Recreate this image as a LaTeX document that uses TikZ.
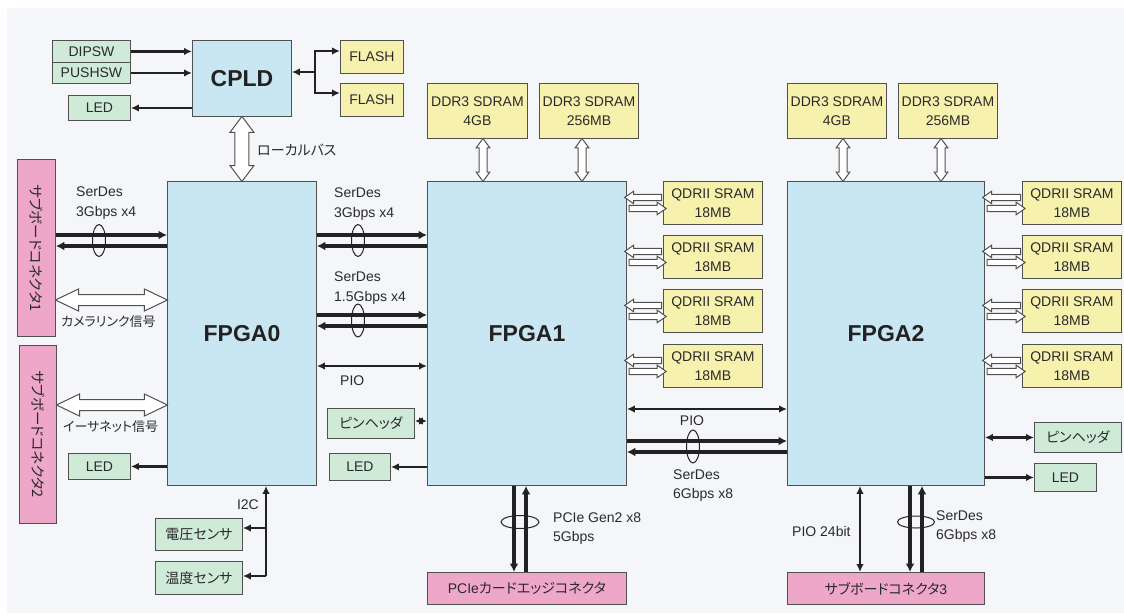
\documentclass[tikz,border=0pt]{standalone}
\usepackage{fontspec}
\setmainfont{Liberation Sans}
\newfontfamily\jp[RawFeature={+palt}]{Noto Sans CJK JP}
\usetikzlibrary{shapes.arrows,calc,arrows.meta}
\definecolor{bgc}{HTML}{F4F6F9}
\definecolor{fpgac}{HTML}{C9E7F2}
\definecolor{grnc}{HTML}{CFEBD8}
\definecolor{yelc}{HTML}{F7F1AE}
\definecolor{pnkc}{HTML}{EEA6C9}
\definecolor{bdc}{HTML}{505050}
\definecolor{txc}{HTML}{2A2A2A}
\definecolor{arc}{HTML}{222222}
\begin{document}
\begin{tikzpicture}[x=1pt,y=-1pt,
  box/.style={draw=bdc, line width=0.9pt, inner sep=0pt, align=center, text=txc,
    font=\fontsize{14}{19}\selectfont, anchor=north west},
  fpga/.style={box, fill=fpgac, font=\bfseries\fontsize{23}{26}\selectfont, text=arc},
  grn/.style={box, fill=grnc},
  yel/.style={box, fill=yelc},
  pnk/.style={box, fill=pnkc},
  lbl/.style={text=txc, font=\fontsize{14}{19.5}\selectfont, inner sep=0pt, align=left},
  ctl/.style={draw=arc, line width=2.1pt, >={Latex[length=8pt,width=7.5pt]}},
  serd/.style={draw=arc, line width=3.3pt, >={Latex[length=8.5pt,width=9pt]}},
  ell/.style={draw=arc, line width=1pt},
  harrow/.style={double arrow, draw=bdc, fill=white, line width=1pt, inner xsep=0pt,
    double arrow head indent=0pt},
  sarrow/.style={single arrow, draw=bdc, fill=white, line width=1pt, inner xsep=0pt,
    inner ysep=2.6pt, single arrow head indent=0pt, single arrow head extend=3.2pt,
    single arrow tip angle=70, minimum height=37},
  ddrarrow/.style={harrow, inner ysep=3.5pt, double arrow head extend=2.8pt,
    double arrow tip angle=72, minimum height=43, rotate=90}
]
\useasboundingbox (0,0) rectangle (1124,614);
\fill[white] (0,0) rectangle (1124,614);
\fill[bgc] (7,8) rectangle (1124,613);

% ---------- top left: CPLD group
\node[grn, minimum width=78, minimum height=22] (dipsw) at (52,40) {DIPSW};
\node[grn, minimum width=78, minimum height=21] (pushsw) at (52,62) {PUSHSW};
\node[grn, minimum width=62, minimum height=25] (ledc) at (68,95) {LED};
\node[fpga, minimum width=99, minimum height=76] (cpld) at (192,40) {CPLD};
\node[yel, minimum width=63, minimum height=33] (flash1) at (340,40) {FLASH};
\node[yel, minimum width=63, minimum height=33] (flash2) at (340,83) {FLASH};

\draw[ctl,->] (dipsw.east) -- (dipsw.east -| cpld.west);
\draw[ctl,->] (pushsw.east) -- (pushsw.east -| cpld.west);
\draw[ctl,->] (cpld.west |- ledc.east) -- (ledc.east);
\coordinate (fj) at (315,72);
\draw[ctl,->] (fj) -- (fj -| cpld.east);
\draw[ctl,->] (fj) |- ($(flash1.north west)+(0,11)$);
\draw[ctl,->] (fj) |- ($(flash2.north west)+(0,10)$);

% ---------- FPGA0 and left side
\node[fpga, minimum width=149, minimum height=304] (fpga0) at (167,181) {FPGA0};
\node[harrow, inner ysep=6.5pt, double arrow head extend=5pt, double arrow tip angle=74,
  minimum height=65, rotate=90] (lbus) at ($(cpld.south)!0.5!(fpga0.north)$) {};
\node[lbl, anchor=west] (lbustxt) at (257,150) {\jp ローカルバス};

\node[pnk, minimum width=38, minimum height=177] (con1) at (17,159) {};
\node[lbl, rotate=-90, font=\fontsize{14.5}{16}\selectfont] at (con1.center) {\jp サブボードコネクタ1};
\node[pnk, minimum width=37, minimum height=178] (con2) at (19,345) {};
\node[lbl, rotate=-90, font=\fontsize{14.5}{16}\selectfont] at (con2.center) {\jp サブボードコネクタ2};

\node[lbl, anchor=west] at (76,203) {SerDes\\3Gbps x4};
\draw[serd,->] (con1.east |- 0,235) -- (fpga0.west |- 0,235);
\draw[serd,->] (fpga0.west |- 0,246) -- (con1.east |- 0,246);
\draw[ell] (99,240.5) ellipse [x radius=6.5, y radius=16];

\node[harrow, inner ysep=5pt, double arrow head extend=5.5pt, double arrow tip angle=51,
  minimum height=112] (cam) at ($(con1.east |- 0,300)!0.5!(fpga0.west |- 0,300)$) {};
\node[lbl, anchor=west, font=\fontsize{13}{16}\selectfont] at (61,322) {\jp カメラリンク信号};
\node[harrow, inner ysep=5pt, double arrow head extend=5.5pt, double arrow tip angle=51,
  minimum height=111] (eth) at ($(con2.east |- 0,405)!0.5!(fpga0.west |- 0,405)$) {};
\node[lbl, anchor=west, font=\fontsize{13}{16}\selectfont] at (63,427) {\jp イーサネット信号};

\node[grn, minimum width=62, minimum height=26] (led0) at (68,453) {LED};
\draw[ctl,->] (fpga0.west |- led0.east) -- (led0.east);

% sensors
\node[grn, minimum width=87, minimum height=32] (volt) at (155,518) {\jp 電圧センサ};
\node[grn, minimum width=87, minimum height=33] (temp) at (155,561) {\jp 温度センサ};
\coordinate (i2c) at (266,576);
\coordinate (i2cv) at (266,528);
\draw[ctl,->] (i2c) -- (i2c |- fpga0.south);
\draw[ctl,->] (i2c) -- (i2c -| temp.east);
\draw[ctl,->] (i2cv) -- (i2cv -| volt.east);
\node[lbl, anchor=east] at (259,505) {I2C};

% ---------- FPGA1
\node[fpga, minimum width=199, minimum height=304] (fpga1) at (427,181) {FPGA1};
\node[yel, minimum width=100, minimum height=55] (ddr1a) at (427,83) {DDR3 SDRAM\\4GB};
\node[yel, minimum width=99, minimum height=55] (ddr1b) at (539,83) {DDR3 SDRAM\\256MB};
\node[ddrarrow] at ($(ddr1a.south -| 483,0)!0.5!(fpga1.north -| 483,0)$) {};
\node[ddrarrow] at ($(ddr1b.south -| 582,0)!0.5!(fpga1.north -| 582,0)$) {};

\node[lbl, anchor=west] at (334,204) {SerDes\\3Gbps x4};
\draw[serd,->] (fpga0.east |- 0,235) -- (fpga1.west |- 0,235);
\draw[serd,->] (fpga1.west |- 0,246) -- (fpga0.east |- 0,246);
\draw[ell] (358,240.5) ellipse [x radius=6.5, y radius=16];

\node[lbl, anchor=west] at (334,288) {SerDes\\1.5Gbps x4};
\draw[serd,->] (fpga0.east |- 0,315) -- (fpga1.west |- 0,315);
\draw[serd,->] (fpga1.west |- 0,326) -- (fpga0.east |- 0,326);
\draw[ell] (358,320.5) ellipse [x radius=6.5, y radius=16.5];

\draw[ctl,<->] (fpga0.east |- 0,366) -- (fpga1.west |- 0,366);
\node[lbl, anchor=west] at (340,381) {PIO};

\node[grn, minimum width=87, minimum height=30] (pin1) at (327,408) {\jp ピンヘッダ};
\draw[ctl,<->] (pin1.east |- 0,421) -- (fpga1.west |- 0,421);
\node[grn, minimum width=61, minimum height=27] (led1) at (329,453) {LED};
\draw[ctl,->] (fpga1.west |- led1.east) -- (led1.east);

\foreach \i/\y in {1/181,2/235,3/289,4/344}{
  \node[yel, minimum width=99, minimum height=43] (qa\i) at (663,\y) {QDRII SRAM\\18MB};
  \node[sarrow, shape border rotate=180] at ($(fpga1.east |- qa\i.west)+(18.5,-5.5)$) {};
  \node[sarrow] at ($(fpga1.east |- qa\i.west)+(18.5,5.5)$) {};
}

% PCIe
\node[pnk, minimum width=199, minimum height=32] (pcie) at (427,572) {PCIe{\jp カードエッジコネクタ}};
\draw[serd,->] (fpga1.south -| 514,0) -- (pcie.north -| 514,0);
\draw[serd,->] (pcie.north -| 526,0) -- (fpga1.south -| 526,0);
\draw[ell] (520,522) ellipse [x radius=19, y radius=6.5];
\node[lbl, anchor=west] at (553,528.5) {PCIe Gen2 x8\\5Gbps};

% ---------- FPGA2
\node[fpga, minimum width=197, minimum height=304] (fpga2) at (787,181) {FPGA2};
\node[yel, minimum width=99, minimum height=55] (ddr2a) at (787,83) {DDR3 SDRAM\\4GB};
\node[yel, minimum width=99, minimum height=55] (ddr2b) at (898,83) {DDR3 SDRAM\\256MB};
\node[ddrarrow] at ($(ddr2a.south -| 843,0)!0.5!(fpga2.north -| 843,0)$) {};
\node[ddrarrow] at ($(ddr2b.south -| 941,0)!0.5!(fpga2.north -| 941,0)$) {};

\foreach \i/\y in {1/181,2/235,3/289,4/344}{
  \node[yel, minimum width=99, minimum height=43] (qb\i) at (1022,\y) {QDRII SRAM\\18MB};
  \node[sarrow, shape border rotate=180, minimum height=38] at ($(fpga2.east |- qb\i.west)+(19,-5.5)$) {};
  \node[sarrow, minimum height=38] at ($(fpga2.east |- qb\i.west)+(19,5.5)$) {};
}

\draw[ctl,<->] (fpga1.east |- 0,409) -- (fpga2.west |- 0,409);
\node[lbl, anchor=center] at (692,421) {PIO};
\draw[serd,->] (fpga1.east |- 0,441) -- (fpga2.west |- 0,441);
\draw[serd,->] (fpga2.west |- 0,452) -- (fpga1.east |- 0,452);
\draw[ell] (693,446.5) ellipse [x radius=6.5, y radius=16.5];
\node[lbl, anchor=west] at (673,485.5) {SerDes\\6Gbps x8};

\node[grn, minimum width=87, minimum height=30] (pin2) at (1034,422) {\jp ピンヘッダ};
\draw[ctl,<->] (fpga2.east |- pin2.west) -- (pin2.west);
\node[grn, minimum width=62, minimum height=28] (led2) at (1034,463) {LED};
\draw[ctl,->] (fpga2.east |- led2.west) -- (led2.west);

\node[pnk, minimum width=197, minimum height=32] (sub3) at (787,572) {{\jp サブボードコネクタ}3};
\draw[ctl,<->] (fpga2.south -| 860,0) -- (sub3.north -| 860,0);
\node[lbl, anchor=west] at (792,531) {PIO 24bit};
\draw[serd,->] (fpga2.south -| 910,0) -- (sub3.north -| 910,0);
\draw[serd,->] (sub3.north -| 922,0) -- (fpga2.south -| 922,0);
\draw[ell] (916,522) ellipse [x radius=18.5, y radius=6];
\node[lbl, anchor=west] at (936,526.5) {SerDes\\6Gbps x8};
\end{tikzpicture}
\end{document}
